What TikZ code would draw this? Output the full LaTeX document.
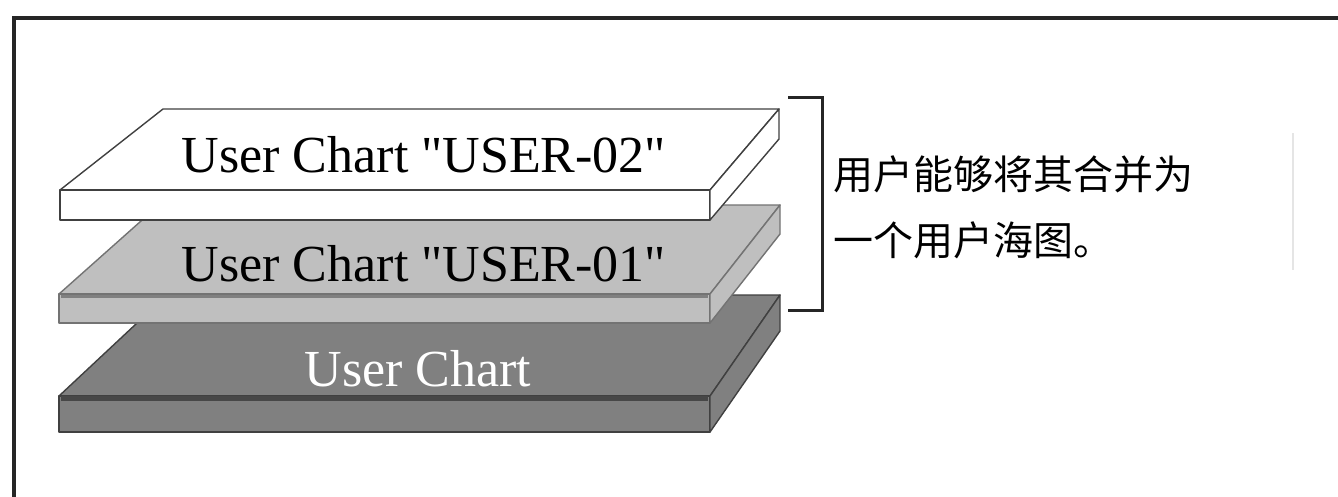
\documentclass[tikz,border=0pt]{standalone}
\usepackage{fontspec}
\setmainfont{Liberation Serif}
\newfontfamily\cjk{Noto Sans CJK SC}
\begin{document}
\begin{tikzpicture}[x=1pt,y=-1pt,
  edge/.style={draw=black!75,line width=1.4pt,line join=round},
  platelabel/.style={font=\fontsize{52}{60}\selectfont,anchor=base,inner sep=0pt},
  note/.style={font=\cjk\fontsize{40}{46}\selectfont,anchor=base west,inner sep=0pt}]
\clip (0,0) rectangle (1338,496);
\useasboundingbox (0,0) rectangle (1338,496);
\fill[white] (0,0) rectangle (1338,496);
% outer frame
\draw[line width=4pt,black!85] (14,520) |- (1360,18);

% bottom plate (dark)
\filldraw[edge,fill=black!50] (167,295) -- (780,295) -- (710,396) -- (59,396) -- cycle;
\filldraw[edge,fill=black!50] (59,396) rectangle (710,432);
\filldraw[edge,fill=black!50] (710,396) -- (780,295) -- (780,331) -- (710,432) -- cycle;
\draw[line width=5pt,black!72] (61,398.5) -- (708,398.5);
\node[platelabel,text=white] (base) at (418,386) {User Chart};

% middle plate (light grey)
\filldraw[edge,draw=black!55,fill=black!25] (159,205) -- (780,205) -- (710,294) -- (59,294) -- cycle;
\filldraw[edge,draw=black!55,fill=black!25] (59,294) rectangle (710,323);
\filldraw[edge,draw=black!55,fill=black!25] (710,294) -- (780,205) -- (780,234) -- (710,323) -- cycle;
\draw[line width=3pt,black!50] (61,296) -- (708,296);
\node[platelabel] (u1) at (424,281) {User Chart \textquotedbl USER-01\textquotedbl};

% top plate (white)
\filldraw[edge,fill=white] (163,109) -- (779,109) -- (710,190) -- (60,190) -- cycle;
\filldraw[edge,fill=white] (60,190) rectangle (710,220);
\filldraw[edge,fill=white] (710,190) -- (779,109) -- (779,139) -- (710,220) -- cycle;
\node[platelabel] (u2) at (424,172) {User Chart \textquotedbl USER-02\textquotedbl};

% bracket grouping the two user charts
\draw[line width=3pt,black!85] (788,97) -| (822,310) -- (788,310);
\node[note] (n1) at (833,189) {用户能够将其合并为};
\node[note] (n2) at (833,255) {一个用户海图。};

% thin divider on the right
\draw[line width=2pt,black!10] (1293,133) -- (1293,270);
\end{tikzpicture}
\end{document}
